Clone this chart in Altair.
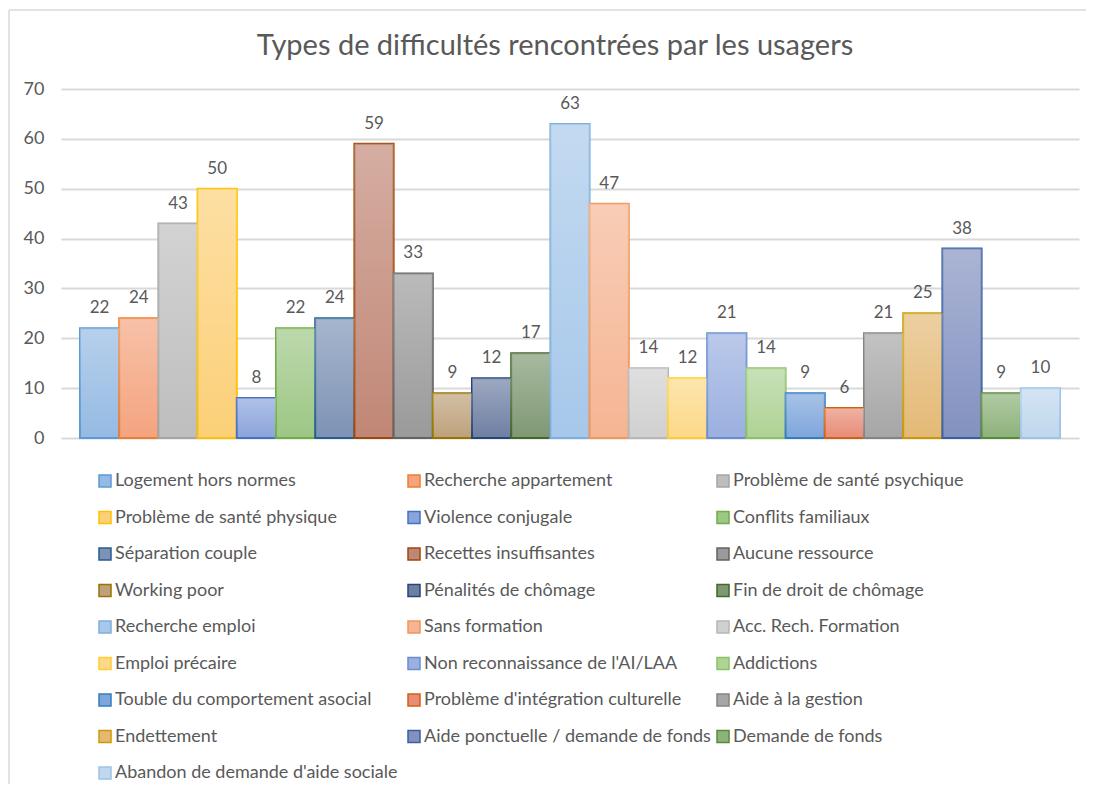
import altair as alt
import pandas as pd

categories = [
    "Logement hors normes", "Recherche appartement", "Problème de santé psychique",
    "Problème de santé physique", "Violence conjugale", "Conflits familiaux",
    "Séparation couple", "Recettes insuffisantes", "Aucune ressource",
    "Working poor", "Pénalités de chômage", "Fin de droit de chômage",
    "Recherche emploi", "Sans formation", "Acc. Rech. Formation",
    "Emploi précaire", "Non reconnaissance de l'AI/LAA", "Addictions",
    "Touble du comportement asocial", "Problème d'intégration culturelle", "Aide à la gestion",
    "Endettement", "Aide ponctuelle / demande de fonds", "Demande de fonds",
    "Abandon de demande d'aide sociale",
]
values = [22, 24, 43, 50, 8, 22, 24, 59, 33, 9, 12, 17, 63, 47, 14, 12, 21, 14, 9, 6, 21, 25, 38, 9, 10]

stroke_colors = [
    "#5B9BD5", "#ED7D31", "#A5A5A5", "#FFC000", "#4472C4", "#70AD47",
    "#255E91", "#9E480E", "#636363", "#997300", "#264478", "#43682B",
    "#7CAFDD", "#F1975A", "#B7B7B7", "#FFCD33", "#698ED0", "#8CC168",
    "#327DC2", "#D26012", "#848484", "#CC9A00", "#3A5FA0", "#5A8A39",
    "#9DC3E6",
]
fill_colors = [
    "#95BAE3", "#F4A47F", "#BEBEBE", "#FCD078", "#8BA4DC", "#9DC785",
    "#7D93B5", "#C18776", "#9A9A9A", "#BEA17B", "#6F7FA3", "#7F9873",
    "#A7C8EA", "#F5B594", "#D0D0D0", "#FCD988", "#9BB0E0", "#AED395",
    "#7EA6DB", "#E88C77", "#A6A6A6", "#E4B975", "#8391C0", "#8DB27A",
    "#C0D7EE",
]
y_ticks = [0, 10, 20, 30, 40, 50, 60, 70]
title_text = "Types de difficultés rencontrées par les usagers"

df = pd.DataFrame({"name": categories, "value": values})

FONT = "Lato"
GREY = "#595959"

xenc = alt.X("name:N", sort=categories, axis=None,
             scale=alt.Scale(paddingInner=0, paddingOuter=0.485))
yenc = alt.Y("value:Q", scale=alt.Scale(domain=[0, 70], nice=False),
             axis=alt.Axis(values=y_ticks, title=None, domain=False, ticks=False, tickSize=0,
                           labelPadding=17, grid=True, gridColor="#D9D9D9", gridWidth=2,
                           labelFont=FONT, labelFontSize=18, labelColor=GREY))

legend = alt.Legend(title=None, orient="none", legendX=35, legendY=383, columns=3,
                    direction="horizontal", gridAlign="all", symbolType="square",
                    symbolSize=144, symbolStrokeWidth=1.5, labelFont=FONT, labelFontSize=18,
                    labelColor=GREY, labelLimit=400, labelOffset=1, rowPadding=18.5,
                    columnPadding=3, padding=0)

base = alt.Chart(df)

bars = base.mark_bar(strokeWidth=2).encode(
    x=xenc, y=yenc,
    fill=alt.Fill("name:N", scale=alt.Scale(domain=categories, range=fill_colors), legend=legend),
    stroke=alt.Stroke("name:N", scale=alt.Scale(domain=categories, range=stroke_colors), legend=legend),
)

shine = base.mark_bar(
    fill=alt.Gradient(gradient="linear", x1=0, y1=0, x2=0, y2=1,
                      stops=[alt.GradientStop(color="rgba(255,255,255,0.32)", offset=0),
                             alt.GradientStop(color="rgba(255,255,255,0)", offset=1)])
).encode(x=xenc, y=yenc)

labels = base.mark_text(dy=-20, baseline="middle", font=FONT, fontSize=17, color=GREY).encode(
    x=xenc, y=yenc, text="value:Q")

frame_df = pd.DataFrame({"f": [0]})
frame_top = alt.Chart(frame_df).mark_rule(stroke="#D9D9D9", strokeWidth=1.5).encode(
    x=alt.value(-52), x2=alt.value(1040), y=alt.value(-79))
frame_left = alt.Chart(frame_df).mark_rule(stroke="#D9D9D9", strokeWidth=1.5).encode(
    x=alt.value(-52), y=alt.value(-79), y2=alt.value(720))

chart = alt.layer(frame_top, frame_left, bars, shine, labels).properties(
    width=1018, height=349,
    title=alt.TitleParams(title_text, font=FONT, fontSize=29, fontWeight="normal", color=GREY,
                          anchor="middle", baseline="alphabetic", offset=-75, dx=-15),
    padding={"left": 53, "top": 81, "right": 7, "bottom": 346},
    autosize=alt.AutoSizeParams(type="none"),
).configure_view(stroke=None)

chart.save("out.html", embed_options={"renderer": "svg", "actions": False})
